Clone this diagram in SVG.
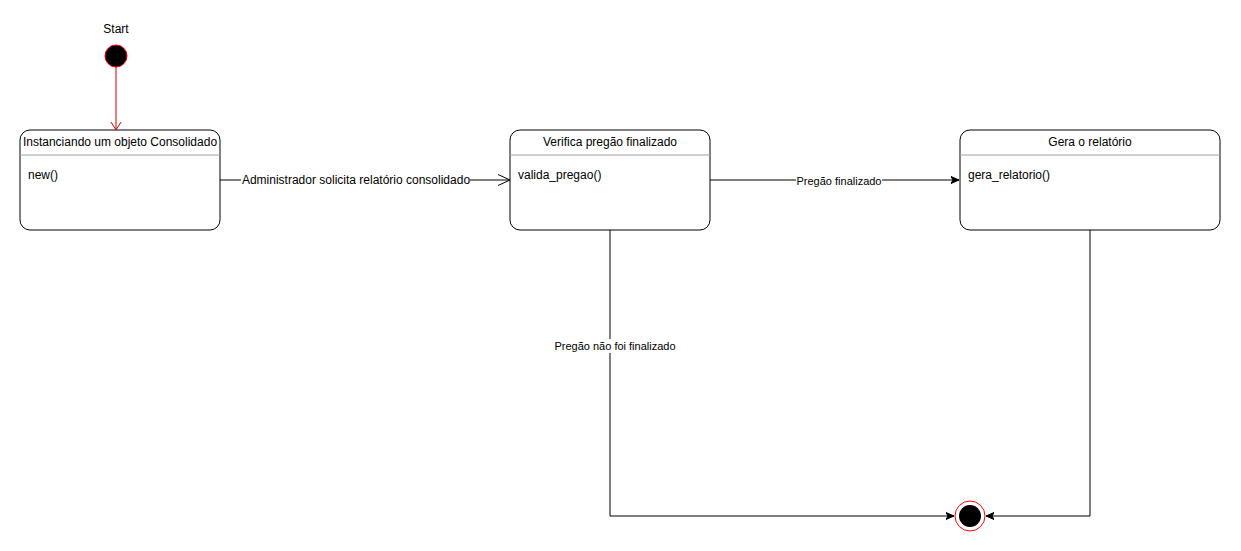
<svg xmlns="http://www.w3.org/2000/svg" width="1241" height="551" viewBox="0 0 1241 551">
  <style>
    text { font-family: "Liberation Sans", Arial, sans-serif; fill: #000; }
    .title { font-size: 12px; text-anchor: middle; }
    .body { font-size: 12px; }
    .lbl { font-size: 12px; text-anchor: middle; }
    .lbl-s { font-size: 11px; text-anchor: middle; }
    .box { fill: #fff; stroke: #000; stroke-width: 1; }
    .sep { stroke: #a0a0a0; stroke-width: 1; }
    .edge { fill: none; stroke: #000; stroke-width: 1; }
    .edge-red { fill: none; stroke: #cc0000; stroke-width: 1; }
    .bg { fill: #fff; }
  </style>
  <defs>
    <marker id="open-red" markerWidth="12" markerHeight="12" refX="10" refY="6" orient="auto" markerUnits="userSpaceOnUse">
      <path d="M2,1 L10,6 L2,11" fill="none" stroke="#cc0000" stroke-width="1"/>
    </marker>
    <marker id="open" markerWidth="14" markerHeight="14" refX="12" refY="7" orient="auto" markerUnits="userSpaceOnUse">
      <path d="M0,1.5 L12,7 L0,12.5" fill="none" stroke="#000" stroke-width="1"/>
    </marker>
    <marker id="filled" markerWidth="10" markerHeight="10" refX="8" refY="5" orient="auto" markerUnits="userSpaceOnUse">
      <path d="M0,1.5 L8,5 L0,8.5 L2,5 Z" fill="#000" stroke="#000" stroke-width="1"/>
    </marker>
  </defs>

  <!-- initial pseudo-state -->
  <g id="start">
    <text x="116" y="33" class="title">Start</text>
    <circle cx="116" cy="56" r="11" fill="#000" stroke="#ff0000" stroke-width="1"/>
  </g>

  <g id="instanciando">
    <rect x="20" y="130" width="200" height="100" rx="10" ry="10" class="box"/>
    <line x1="20" y1="155" x2="220" y2="155" class="sep"/>
    <text x="120" y="146" class="title">Instanciando um objeto Consolidado</text>
    <text x="28" y="179" class="body">new()</text>
  </g>

  <g id="verifica">
    <rect x="510" y="130" width="200" height="100" rx="10" ry="10" class="box"/>
    <line x1="510" y1="155" x2="710" y2="155" class="sep"/>
    <text x="610" y="146" class="title">Verifica pregão finalizado</text>
    <text x="518" y="179" class="body">valida_pregao()</text>
  </g>

  <g id="gera">
    <rect x="960" y="130" width="260" height="100" rx="10" ry="10" class="box"/>
    <line x1="960" y1="155" x2="1220" y2="155" class="sep"/>
    <text x="1090" y="146" class="title">Gera o relatório</text>
    <text x="968" y="179" class="body">gera_relatorio()</text>
  </g>

  <!-- final pseudo-state -->
  <g id="end">
    <circle cx="970" cy="516" r="15" fill="#fff" stroke="#ff0000" stroke-width="1"/>
    <circle cx="970" cy="516" r="11" fill="#000"/>
  </g>

  <g id="connectors">
    <line x1="116" y1="67" x2="116" y2="130" class="edge-red" marker-end="url(#open-red)"/>

    <line x1="220" y1="180" x2="510" y2="180" class="edge" marker-end="url(#open)"/>
    <rect x="241" y="172" width="229" height="16" class="bg"/>
    <text x="356" y="184" class="lbl">Administrador solicita relatório consolidado</text>

    <line x1="710" y1="180" x2="959" y2="180" class="edge" marker-end="url(#filled)"/>
    <rect x="796" y="174" width="86" height="14" class="bg"/>
    <text x="839" y="185" class="lbl-s">Pregão finalizado</text>

    <path d="M610,230 L610,516 L954,516" class="edge" marker-end="url(#filled)"/>
    <rect x="553" y="339" width="124" height="14" class="bg"/>
    <text x="615" y="350" class="lbl-s">Pregão não foi finalizado</text>

    <path d="M1090,230 L1090,516 L986,516" class="edge" marker-end="url(#filled)"/>
  </g>
</svg>
